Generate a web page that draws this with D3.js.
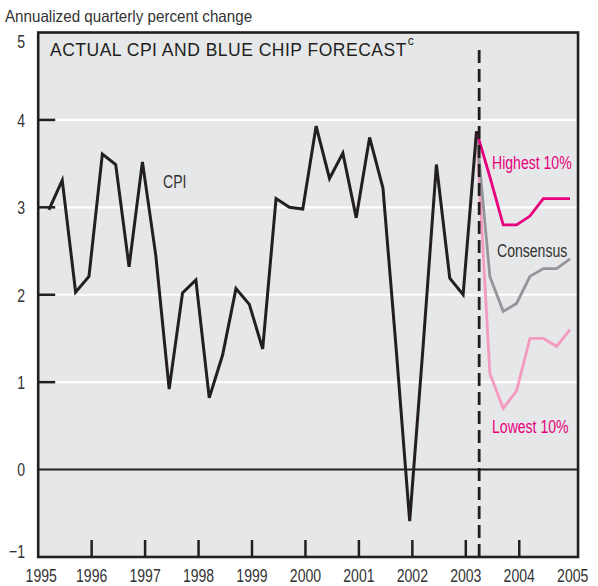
<!DOCTYPE html>
<html>
<head>
<meta charset="utf-8">
<script src="https://cdn.jsdelivr.net/npm/d3@7"></script>
<style>
  html, body { margin: 0; padding: 0; background: #fff; }
  svg { display: block; }
  text { font-family: "Liberation Sans", Arial, Helvetica, sans-serif; }
</style>
</head>
<body>
<svg id="chart" width="598" height="586"></svg>
<script>
// ---- Data ----
const years = [1995, 1996, 1997, 1998, 1999, 2000, 2001, 2002, 2003, 2004, 2005];
const yTicks = [-1, 0, 1, 2, 3, 4, 5];
const gridValues = [1, 2, 3, 4];
const xTickYears = [1996, 1997, 1998, 1999, 2000, 2001, 2002, 2003, 2004];

// Actual CPI, quarterly 1995Q1 .. 2003Q1
const cpiStartYear = 1995;
const cpi = [
  2.97, 3.31, 2.03, 2.21,
  3.61, 3.49, 2.32, 3.52,
  2.45, 0.92, 2.02, 2.17,
  0.82, 1.31, 2.07, 1.89,
  1.38, 3.10, 3.00, 2.98,
  3.93, 3.33, 3.62, 2.88,
  3.80, 3.22, 1.36, -0.59,
  1.40, 3.49, 2.19, 2.00,
  3.87
];
// Blue Chip forecasts, quarterly 2003Q1 .. 2004Q4
const forecastStartYear = 2003;
const highest10 = [3.87, 3.35, 2.80, 2.80, 2.90, 3.10, 3.10, 3.10];
const consensus = [3.87, 2.21, 1.81, 1.90, 2.21, 2.30, 2.30, 2.41];
const lowest10  = [3.87, 1.10, 0.70, 0.90, 1.50, 1.50, 1.41, 1.60];
const forecastDate = 2003.25;

(function () {
const svg = d3.select("#chart");
const x = d3.scaleLinear().domain([1995, 2005]).range([38.2, 572.7]);
const y = d3.scaleLinear().domain([-1, 5]).range([557, 32.5]);
const ink = "#231f20";
const qTime = (start, i) => start + 0.2 + i * 0.25;

// condensed text helper (horizontal squeeze of a regular sans)
function cText(parent, tx, ty, str, size, sx, anchor, color) {
  return parent.append("text")
    .attr("transform", `translate(${tx},${ty}) scale(${sx},1)`)
    .attr("font-size", size)
    .attr("text-anchor", anchor || "start")
    .attr("fill", color || "#333")
    .text(str);
}

const pLeft = x(1995), pRight = x(2005.1), pTop = y(5), pBottom = y(-1);
svg.append("rect")
  .attr("x", pLeft).attr("y", pTop)
  .attr("width", pRight - pLeft).attr("height", pBottom - pTop)
  .attr("fill", "#e6e7e8");

svg.selectAll(".grid").data(gridValues).enter().append("line")
  .attr("x1", pLeft).attr("x2", pRight)
  .attr("y1", d => y(d)).attr("y2", d => y(d))
  .attr("stroke", "#fff").attr("stroke-width", 2.2);

svg.append("line")
  .attr("x1", pLeft).attr("x2", pRight)
  .attr("y1", y(0)).attr("y2", y(0))
  .attr("stroke", ink).attr("stroke-width", 2);

svg.selectAll(".ytick").data(gridValues).enter().append("line")
  .attr("x1", pLeft).attr("x2", pLeft + 17)
  .attr("y1", d => y(d)).attr("y2", d => y(d))
  .attr("stroke", ink).attr("stroke-width", 2.5);

svg.selectAll(".xtick").data(xTickYears).enter().append("line")
  .attr("x1", d => x(d)).attr("x2", d => x(d))
  .attr("y1", pBottom - 17).attr("y2", pBottom)
  .attr("stroke", ink).attr("stroke-width", 2.5);

const line = (start) => d3.line()
  .x((d, i) => x(qTime(start, i)))
  .y(d => y(d));

svg.append("path").datum(lowest10)
  .attr("d", line(forecastStartYear)).attr("fill", "none")
  .attr("stroke", "#f49ac1").attr("stroke-width", 2.8);
svg.append("path").datum(consensus)
  .attr("d", line(forecastStartYear)).attr("fill", "none")
  .attr("stroke", "#939598").attr("stroke-width", 2.8);
svg.append("path").datum(highest10)
  .attr("d", line(forecastStartYear)).attr("fill", "none")
  .attr("stroke", "#e6007e").attr("stroke-width", 2.8);

svg.append("line")
  .attr("x1", x(forecastDate)).attr("x2", x(forecastDate))
  .attr("y1", y(4.8)).attr("y2", pBottom)
  .attr("stroke", ink).attr("stroke-width", 2.8)
  .attr("stroke-dasharray", "13,6");

svg.append("path").datum(cpi)
  .attr("d", line(cpiStartYear)).attr("fill", "none")
  .attr("stroke", ink).attr("stroke-width", 3);

svg.append("rect")
  .attr("x", pLeft).attr("y", pTop)
  .attr("width", pRight - pLeft).attr("height", pBottom - pTop)
  .attr("fill", "none").attr("stroke", ink).attr("stroke-width", 2.6);

// y tick labels
yTicks.forEach(v => {
  const ty = Math.max(y(4.9), Math.min(y(-0.93), y(v))) + 6.8;
  cText(svg, 25, ty, v < 0 ? "\u2212" + Math.abs(v) : String(v), 19, 0.74, "end");
});

// x year labels
years.forEach(yr => {
  cText(svg, x(yr) + (yr === 1995 ? 3 : 0), 581.5, String(yr), 19, 0.74, "middle");
});

// axis title
cText(svg, 5, 22, "Annualized quarterly percent change", 16.5, 0.92, "start");

// chart title
const title = svg.append("text")
  .attr("x", 50).attr("y", 56)
  .attr("font-size", 17.5).attr("letter-spacing", 0.5).attr("fill", ink)
  .text("ACTUAL CPI AND BLUE CHIP FORECAST");
title.append("tspan").attr("font-size", 12).attr("dy", -11).attr("dx", 1).text("c");

// series labels
cText(svg, 163, 188, "CPI", 19, 0.74, "start", "#333");
cText(svg, 492, 169, "Highest 10%", 19, 0.74, "start", "#e6007e");
cText(svg, 497, 257, "Consensus", 19, 0.74, "start", "#333");
cText(svg, 492, 433, "Lowest 10%", 19, 0.74, "start", "#e6007e");
})();
</script>
</body>
</html>
